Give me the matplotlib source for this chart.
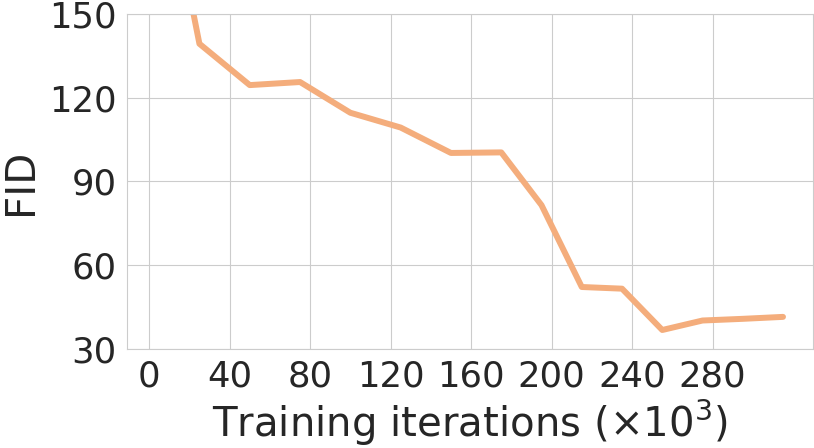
import matplotlib
matplotlib.use('Agg')
import matplotlib.pyplot as plt
import seaborn as sns

# iterations (x10^3) and FID values
iters = [0, 25, 50, 75, 100, 125, 150, 175, 195, 215, 235, 255, 275, 295, 315]
fid = [230, 139.3, 124.5, 125.6, 114.6, 109.3, 100.2, 100.4, 81.5, 52.2, 51.6, 36.8, 40.2, 40.8, 41.5]

xticks = [0, 40, 80, 120, 160, 200, 240, 280]
yticks = [30, 60, 90, 120, 150]

sns.set_style("whitegrid")
plt.rcParams['font.family'] = ['DejaVu Sans']

fig = plt.figure(figsize=(8.14, 4.48), dpi=100)
ax = fig.add_axes([0.156, 0.221, 0.843, 0.748])

ax.plot(iters, fid, color='#f4ad7c', linewidth=4.3, solid_capstyle='round', solid_joinstyle='round')

ax.set_xlim(-11, 330)
ax.set_ylim(30, 150)
ax.set_xticks(xticks)
ax.set_yticks(yticks)
ax.tick_params(axis='both', labelsize=25.5, pad=4, colors='.15')
ax.set_xlabel(r'Training iterations ($\times10^3$)', fontsize=29, color='.15', labelpad=3)
ax.set_ylabel('FID', fontsize=29, color='.15', labelpad=6)

fig.savefig('out.png', dpi=100)
